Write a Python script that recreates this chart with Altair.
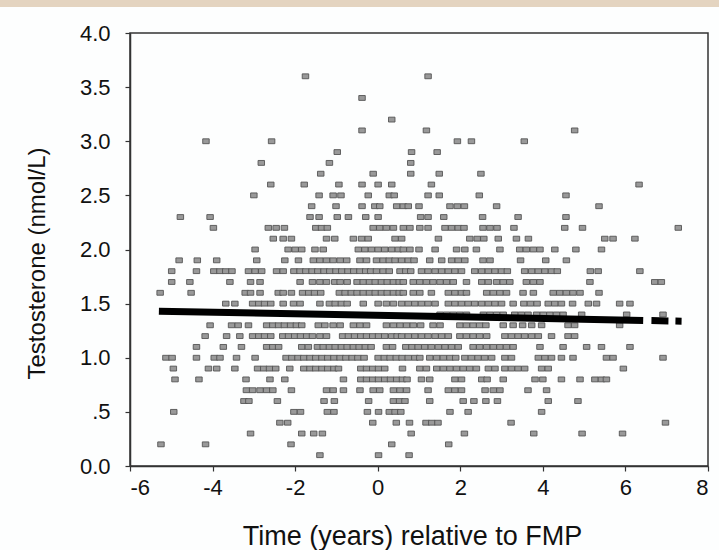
import altair as alt
import pandas as pd

# Testosterone readings (x = years relative to FMP) grouped by y level
y_levels = [3.6, 3.4, 3.2, 3.1, 3.0, 2.9, 2.8, 2.7, 2.6, 2.5, 2.4, 2.3, 2.2, 2.1, 2.0,
            1.9, 1.8, 1.7, 1.6, 1.5, 1.4, 1.3, 1.2, 1.1, 1.0, 0.9, 0.8, 0.7, 0.6,
            0.5, 0.4, 0.3, 0.2, 0.1]

x_36 = [-1.75, 1.22]
x_34 = [-0.38]
x_32 = [0.34]
x_31 = [-0.38, 1.18, 4.77]
x_30 = [-4.16, -2.57, 1.93, 2.27, 3.55]
x_29 = [-0.98, 0.82, 1.44]
x_28 = [-2.82, -1.17, 0.80]
x_27 = [-1.38, -0.11, 0.80, 1.49, 2.50]
x_26 = [-2.59, -1.78, -0.94, -0.38, 0.01, 0.34, 1.30, 6.33]
x_25 = [-3.00, -1.42, -1.08, -0.89, -0.23, 0.28, 0.40, 1.22, 1.49, 2.46, 4.56]
x_24 = [-1.60, -1.01, -0.38, -0.07, 0.05, 0.46, 0.62, 0.74, 1.00, 1.75, 1.93, 2.10,
        2.88, 5.36]
x_23 = [-4.78, -4.06, -1.64, -1.42, -0.98, -0.71, -0.29, 0.01, 1.04, 1.22, 1.60, 2.54,
        3.40, 4.56]
x_22 = [-3.98, -2.65, -2.46, -2.26, -1.50, -1.36, -1.22, -0.11, 0.05, 0.21, 0.38, 0.62,
        0.78, 1.02, 1.22, 1.63, 1.79, 1.95, 2.09, 2.55, 2.72, 2.89, 3.30, 4.53, 4.96,
        7.28]
x_21 = [-2.53, -2.29, -2.09, -1.24, -1.04, -0.59, -0.39, -0.23, 0.42, 0.58, 1.47, 2.23,
        2.41, 2.57, 2.92, 3.36, 3.65, 5.50, 5.70, 6.23]
x_20 = [-2.97, -2.17, -2.00, -1.84, -1.52, -1.32, -0.47, -0.31, -0.15, 0.01, 0.17, 0.34,
        0.50, 0.62, 0.78, 1.00, 1.39, 1.91, 2.11, 2.39, 2.96, 3.44, 3.60, 3.77, 3.93,
        4.29, 4.80, 5.42]
x_19 = [-4.81, -4.37, -3.90, -2.93, -2.25, -1.92, -1.56, -1.40, -1.24, -1.08, -0.91,
        -0.75, -0.43, -0.27, -0.03, 0.13, 0.28, 0.42, 0.58, 0.74, 0.88, 1.26, 1.55,
        1.79, 1.95, 2.11, 2.55, 2.72, 3.46, 4.07, 4.57]
x_18 = [-4.99, -4.39, -3.97, -3.82, -3.68, -3.53, -3.13, -2.97, -2.81, -2.45, -2.29,
        -2.03, -1.88, -1.74, -1.59, -1.45, -1.30, -1.16, -1.01, -0.87, -0.72, -0.58,
        -0.43, -0.29, -0.17, -0.03, 0.13, 0.28, 0.54, 0.68, 0.80, 1.06, 1.22, 1.39,
        1.55, 1.71, 1.87, 2.03, 2.35, 2.52, 2.68, 2.84, 3.00, 3.14, 3.56, 3.73, 3.89,
        4.05, 4.21, 4.35, 5.15, 5.34, 6.35]
x_17 = [-4.99, -4.55, -3.58, -3.08, -2.85, -1.88, -1.58, -1.40, -1.24, -1.04, -0.91,
        -0.74, -0.50, -0.35, -0.20, -0.06, 0.09, 0.23, 0.38, 0.52, 0.62, 0.86, 1.02,
        1.18, 1.34, 1.51, 1.67, 1.83, 2.15, 2.52, 2.68, 2.88, 3.04, 3.20, 3.60, 3.77,
        3.93, 5.14, 6.71, 6.87]
x_16 = [-5.27, -4.52, -3.21, -3.08, -2.85, -2.41, -2.29, -2.09, -1.82, -1.67, -1.53,
        -1.38, -0.93, -0.79, -0.64, -0.50, -0.35, -0.20, -0.06, 0.09, 0.23, 0.38, 0.52,
        0.62, 0.86, 1.02, 1.30, 1.71, 1.87, 2.03, 2.15, 2.64, 2.80, 2.96, 3.12, 3.52,
        3.77, 4.25, 4.41, 4.57, 4.73, 4.90, 5.36]
x_15 = [-3.68, -3.46, -3.03, -2.88, -2.74, -2.59, -2.29, -2.04, -1.88, -1.40, -1.17,
        -1.03, -0.88, -0.74, -0.35, 0.01, 0.21, 0.38, 0.58, 0.74, 0.90, 1.06, 1.22,
        1.39, 1.71, 1.87, 2.03, 2.19, 2.35, 2.52, 2.68, 2.84, 3.00, 3.28, 3.54, 3.70,
        3.86, 4.13, 4.29, 4.45, 4.72, 5.10, 5.30, 5.86, 6.11]
x_14 = [1.51, 1.67, 1.83, 1.99, 2.15, 2.56, 2.72, 2.88, 3.04, 3.32, 3.48, 3.64, 3.85,
        4.01, 4.17, 4.33, 4.49, 4.94, 6.03, 6.91]
x_13 = [-4.06, -3.54, -3.38, -3.13, -2.69, -2.54, -2.40, -2.26, -2.11, -1.97, -1.84,
        -1.44, -1.28, -1.08, -0.91, -0.59, -0.43, -0.27, 0.21, 0.38, 0.54, 0.70, 0.86,
        1.04, 1.34, 1.51, 1.99, 2.15, 2.31, 2.47, 2.62, 3.04, 3.28, 3.51, 3.73, 3.97,
        4.61, 4.77, 5.86]
x_12 = [-4.18, -3.66, -3.34, -3.03, -2.88, -2.74, -2.59, -2.30, -2.16, -2.01, -1.87,
        -1.72, -1.58, -1.40, -1.24, -0.85, -0.71, -0.56, -0.41, -0.27, -0.12, 0.02,
        0.17, 0.34, 0.47, 0.58, 0.74, 0.90, 1.06, 1.22, 1.39, 1.55, 1.71, 1.99, 2.15,
        2.31, 2.47, 2.64, 3.08, 3.24, 3.40, 3.56, 3.73, 3.89, 4.21, 4.61, 4.77]
x_11 = [-4.39, -3.74, -3.30, -2.69, -2.54, -2.40, -1.84, -1.68, -1.46, -1.32, -1.17,
        -1.03, -0.88, -0.74, -0.59, -0.45, -0.30, -0.16, 0.21, 0.36, 0.68, 0.83, 0.98,
        1.14, 1.30, 1.47, 1.63, 1.79, 1.95, 2.31, 2.47, 2.64, 2.80, 2.96, 3.12, 3.28,
        3.93, 4.49, 5.06, 5.42, 6.11]
x_10 = [-5.13, -4.98, -4.39, -3.96, -3.82, -3.42, -2.97, -2.22, -2.08, -1.93, -1.79,
        -1.64, -1.50, -1.35, -1.21, -1.06, -0.91, -0.77, -0.62, -0.48, -0.33, 0.01,
        0.16, 0.30, 0.45, 0.59, 0.74, 0.90, 1.02, 1.26, 1.43, 1.59, 1.75, 1.89, 2.11,
        2.27, 2.43, 2.59, 2.76, 3.08, 3.24, 3.89, 4.05, 4.21, 4.45, 4.73, 5.54, 5.70,
        6.91]
x_09 = [-4.95, -4.10, -3.90, -3.46, -2.91, -2.76, -2.62, -2.47, -2.13, -1.79, -1.64,
        -1.50, -1.35, -1.21, -1.06, -0.95, -0.41, -0.27, -0.12, 0.02, 0.17, 0.60, 1.02,
        1.18, 1.43, 1.59, 1.75, 1.91, 2.07, 2.23, 2.39, 2.68, 2.84, 3.08, 3.24, 3.40,
        3.56, 3.97, 4.13, 5.95]
x_08 = [-4.91, -4.33, -3.19, -2.61, -2.25, -0.83, -0.41, -0.27, -0.12, 0.02, 0.17, 0.31,
        0.46, 0.60, 0.71, 1.06, 1.26, 1.87, 2.03, 2.52, 2.65, 3.04, 3.81, 4.00, 4.45,
        4.90, 5.26, 5.42, 5.54]
x_07 = [-3.18, -3.03, -2.85, -2.69, -2.54, -2.09, -1.24, -1.08, -0.83, -0.43, -0.11,
        0.05, 0.38, 0.54, 0.70, 1.22, 1.71, 1.87, 2.03, 2.60, 2.80, 2.96, 3.64, 4.09]
x_06 = [-3.24, -3.12, -2.43, -1.30, -1.05, -0.22, 0.38, 0.53, 0.66, 1.26, 2.07, 2.33,
        2.62, 2.90, 4.13, 4.85]
x_05 = [-4.94, -2.03, -1.87, -1.22, -1.06, -0.25, 0.02, 0.28, 0.42, 0.56, 1.75, 2.19,
        3.97]
x_04 = [-2.37, -2.18, -0.12, 0.45, 0.77, 1.17, 1.31, 1.46, 3.23, 6.97]
x_03 = [-3.08, -1.84, -1.55, -1.34, 0.81, 2.10, 3.78, 4.95, 5.93]
x_02 = [-5.25, -4.17, -2.10, 0.34, 1.72]
x_01 = [-1.40, 0.02, 0.76]

row_x = [x_36, x_34, x_32, x_31, x_30, x_29, x_28, x_27, x_26, x_25, x_24, x_23, x_22,
         x_21, x_20, x_19, x_18, x_17, x_16, x_15, x_14, x_13, x_12, x_11, x_10, x_09,
         x_08, x_07, x_06, x_05, x_04, x_03, x_02, x_01]

# Fitted trend line (solid part, then dashed tail)
fit_x = [-5.30, 6.43]
fit_y = [1.430, 1.345]
tail_x = [6.63, 7.36]
tail_y = [1.343, 1.338]

x_ticks = [-6, -4, -2, 0, 2, 4, 6, 8]
y_ticks = [0.0, 0.5, 1.0, 1.5, 2.0, 2.5, 3.0, 3.5, 4.0]

pts = pd.DataFrame(
    [{"t": xv, "v": yv} for yv, xs in zip(y_levels, row_x) for xv in xs]
)
fit = pd.DataFrame({"t": fit_x, "v": fit_y})
tail = pd.DataFrame({"t": tail_x, "v": tail_y})

FONT = "Liberation Sans"

xscale = alt.Scale(domain=[-6, 8], nice=False, zero=False)
yscale = alt.Scale(domain=[0, 4], nice=False, zero=False)

xaxis = alt.Axis(
    values=x_ticks, title="Time (years) relative to FMP", grid=False,
    labelExpr="datum.value < 0 ? '-' + (-datum.value) : '' + datum.value",
    tickSize=5, labelPadding=6, labelFontSize=22, titleFontSize=27,
    titleFontWeight="normal", titleBaseline="alphabetic", titleY=78, titleX=282,
    labelFont=FONT, titleFont=FONT, labelColor="#111", titleColor="#111",
    domainColor="#333", domainWidth=1.5, tickColor="#333", tickWidth=1.2,
)
yaxis = alt.Axis(
    values=y_ticks, title="Testosterone (nmol/L)", grid=False,
    labelExpr="datum.value == 0.5 ? '.5' : format(datum.value, '.1f')",
    tickSize=5, labelPadding=15, labelFontSize=22, titleFontSize=24,
    titleFontWeight="normal", titleBaseline="alphabetic", titleX=-86, titleY=230,
    titleAngle=270, titleAlign="center",
    labelFont=FONT, titleFont=FONT, labelColor="#111", titleColor="#111",
    domainColor="#333", domainWidth=1.5, tickColor="#333", tickWidth=1.2,
)

points = alt.Chart(pts).mark_point(
    shape="M-1,-0.75H1V0.75H-1Z", size=42, filled=True,
    fill="#999999", stroke="#555555", strokeWidth=0.9, opacity=1,
).encode(
    x=alt.X("t:Q", scale=xscale, axis=xaxis),
    y=alt.Y("v:Q", scale=yscale, axis=yaxis),
)

fit_line = alt.Chart(fit).mark_line(color="black", strokeWidth=7, strokeCap="butt").encode(
    x=alt.X("t:Q", scale=xscale), y=alt.Y("v:Q", scale=yscale)
)
tail_line = alt.Chart(tail).mark_line(
    color="black", strokeWidth=7, strokeCap="butt", strokeDash=[17, 7]
).encode(x=alt.X("t:Q", scale=xscale), y=alt.Y("v:Q", scale=yscale))

band = alt.Chart(pd.DataFrame({"a": [0]})).mark_rect(color="#e4d4c0").encode(
    x=alt.value(-130), x2=alt.value(589), y=alt.value(-33), y2=alt.value(-26)
)

chart = alt.layer(band, points, fit_line, tail_line).properties(
    width=578, height=433,
    autosize=alt.AutoSizeParams(type="none"),
    padding={"left": 130, "top": 33, "right": 11, "bottom": 84},
    background="#fdfefe",
).configure_view(stroke="#333", strokeWidth=1.5)

chart.save("out.html", embed_options={"renderer": "svg", "actions": False})
